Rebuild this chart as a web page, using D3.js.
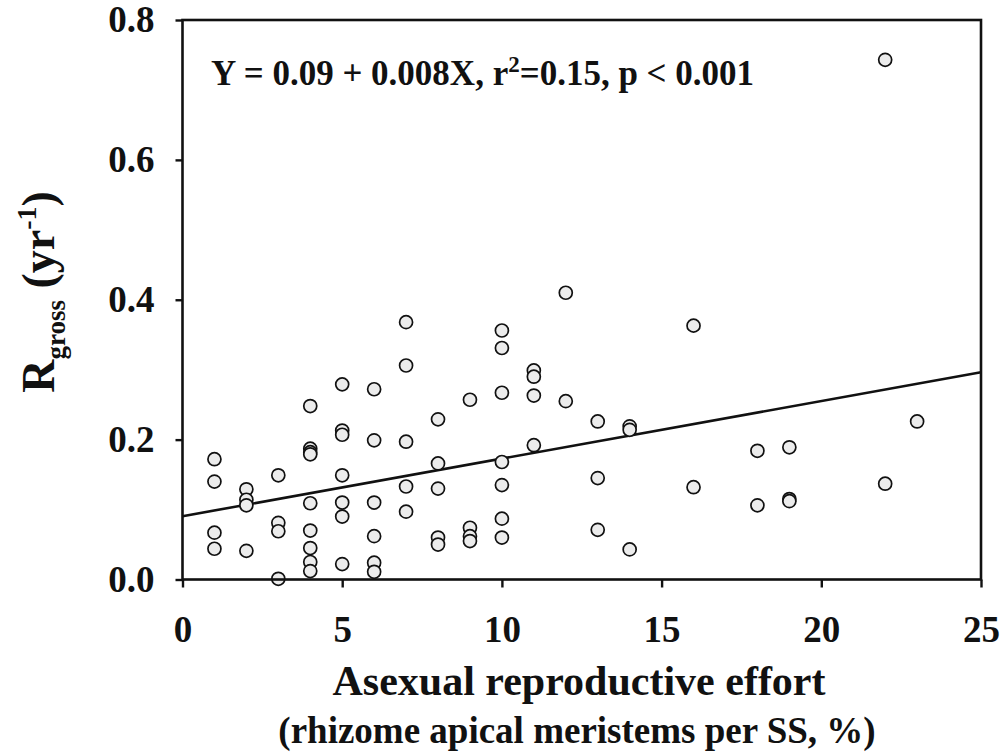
<!DOCTYPE html>
<html>
<head>
<meta charset="utf-8">
<script src="https://cdn.jsdelivr.net/npm/d3@7"></script>
<style>
  body { margin: 0; background: #fff; }
  svg text { font-family: "Liberation Serif", "Times New Roman", serif; font-weight: bold; fill: #111; }
</style>
</head>
<body>
<div class="container"></div>
<script>
// asexual reproductive effort (%) and R gross (yr-1), one entry per stand
const effort = [
  1, 1, 1, 1,
  2, 2, 2, 2,
  3, 3, 3, 3,
  4, 4, 4, 4, 4, 4, 4, 4, 4,
  5, 5, 5, 5, 5, 5, 5,
  6, 6, 6, 6, 6, 6,
  7, 7, 7, 7, 7,
  8, 8, 8, 8, 8,
  9, 9, 9, 9,
  10, 10, 10, 10, 10, 10, 10,
  11, 11, 11, 11,
  12, 12,
  13, 13, 13,
  14, 14, 14,
  16, 16,
  18, 18,
  19, 19, 19,
  22, 22,
  23
]
const rGross = [
  0.172, 0.140, 0.067, 0.044,
  0.129, 0.114, 0.106, 0.041,
  0.149, 0.081, 0.069, 0.001,
  0.248, 0.187, 0.182, 0.179, 0.109, 0.070, 0.045, 0.025, 0.012,
  0.279, 0.213, 0.207, 0.149, 0.110, 0.090, 0.022,
  0.272, 0.199, 0.110, 0.062, 0.024, 0.011,
  0.368, 0.306, 0.197, 0.133, 0.097,
  0.229, 0.166, 0.130, 0.060, 0.050,
  0.257, 0.074, 0.062, 0.055,
  0.356, 0.331, 0.267, 0.168, 0.135, 0.087, 0.060,
  0.299, 0.290, 0.263, 0.192,
  0.410, 0.255,
  0.226, 0.145, 0.071,
  0.219, 0.214, 0.043,
  0.363, 0.132,
  0.184, 0.106,
  0.189, 0.115, 0.112,
  0.743, 0.137,
  0.226
]
const xTicks = [0, 5, 10, 15, 20, 25]
const yTicks = [0, 0.2, 0.4, 0.6, 0.8]
const fitIntercept = 0.0905
const fitSlope = 0.00823
const fitRange = [0, 25]

const w = 1003
const h = 755
const plotLeft = 182.5, plotRight = 981, plotTop = 20, plotBottom = 579.5

const xScale = d3.scaleLinear().domain([0, 25]).range([plotLeft, plotRight])
const yScale = d3.scaleLinear().domain([0, 0.8]).range([plotBottom, plotTop])

const svg = d3.select(".container")
              .append("svg")
              .attr("width", w)
              .attr("height", h)

// regression line
const line = d3.line()
               .x(d => xScale(d))
               .y(d => yScale(fitIntercept + fitSlope * d))
svg.append("path")
   .datum(fitRange)
   .attr("d", line)
   .attr("fill", "none")
   .attr("stroke", "#111")
   .attr("stroke-width", 2.6)

// points
svg.selectAll("circle")
   .data(effort.map((x, i) => [x, rGross[i]]))
   .enter()
   .append("circle")
   .attr("cx", d => xScale(d[0]))
   .attr("cy", d => yScale(d[1]))
   .attr("r", 6.5)
   .attr("fill", "#ececec")
   .attr("stroke", "#111")
   .attr("stroke-width", 1.7)

// axes
const xAxis = d3.axisBottom(xScale).tickValues(xTicks).tickSize(8).tickSizeOuter(0)
const yAxis = d3.axisLeft(yScale).tickValues(yTicks).tickSize(7).tickSizeOuter(0)
                .tickFormat(d3.format(".1f"))

const gx = svg.append("g")
   .attr("transform", `translate(0, ${plotBottom})`)
   .call(xAxis)
gx.select(".domain").remove()
gx.selectAll("line").attr("stroke", "#111").attr("stroke-width", 2.4)
gx.selectAll("text")
  .attr("y", 62).attr("dy", 0)
  .style("font-size", "37px")
  .style("font-family", "'Liberation Serif', serif")

const gy = svg.append("g")
   .attr("transform", `translate(${plotLeft}, 0)`)
   .call(yAxis)
gy.select(".domain").remove()
gy.selectAll("line").attr("stroke", "#111").attr("stroke-width", 2.4)
gy.selectAll("text")
  .attr("x", -28)
  .style("font-size", "37px")
  .style("font-family", "'Liberation Serif', serif")

// frame
svg.append("rect")
   .attr("x", plotLeft).attr("y", plotTop)
   .attr("width", plotRight - plotLeft).attr("height", plotBottom - plotTop)
   .attr("fill", "none")
   .attr("stroke", "#111")
   .attr("stroke-width", 2.6)

// equation
const eq = svg.append("text")
   .attr("x", 211).attr("y", 85)
   .style("font-size", "35px")
eq.append("tspan").text("Y = 0.09 + 0.008X, r")
eq.append("tspan").attr("dy", -13).style("font-size", "23px").text("2")
eq.append("tspan").attr("dy", 13).text("=0.15, p < 0.001")

// axis titles
svg.append("text")
   .attr("x", 579).attr("y", 695)
   .attr("text-anchor", "middle")
   .style("font-size", "42px")
   .text("Asexual reproductive effort")
svg.append("text")
   .attr("x", 577).attr("y", 743)
   .attr("text-anchor", "middle")
   .style("font-size", "37px")
   .text("(rhizome apical meristems per SS, %)")

const yt = svg.append("text")
   .attr("transform", "translate(54, 292) rotate(-90)")
   .attr("text-anchor", "middle")
   .style("font-size", "46px")
yt.append("tspan").text("R")
yt.append("tspan").attr("dy", 11).style("font-size", "27px").text("gross")
yt.append("tspan").attr("dy", -11).text(" (yr")
yt.append("tspan").attr("dy", -18).style("font-size", "28px").text("-1")
yt.append("tspan").attr("dy", 18).text(")")
</script>
</body>
</html>
